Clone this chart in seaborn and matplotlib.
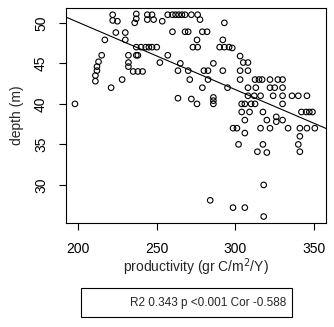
import numpy as np
import pandas as pd
import seaborn as sns
import matplotlib.pyplot as plt
from matplotlib.patches import Rectangle

# productivity (gr C/m2/Y) and depth (m)
productivity = [
    198, 211, 211, 212, 212, 213, 215, 217, 221, 222, 222, 225, 224, 228,
    230, 230, 232, 232, 232, 235, 238, 241, 236, 237, 237,
    237, 240, 243, 245, 247, 250, 237, 238, 244, 247, 244, 248,
    252, 253.5, 257, 257,
    260, 262, 264, 266, 268, 272, 276, 277.5, 293,
    260, 268, 270, 279, 282, 275.6, 292, 273, 276,
    290, 293, 296, 298, 265, 286,
    263.5, 270, 280, 282.6, 292, 271, 282.6, 279, 295,
    263.5, 272, 275.6, 286, 286, 286, 284,
    303, 305, 308, 303, 308,
    303, 312.5, 315, 317, 322, 327, 330,
    308, 313, 322, 325, 330,
    308, 312, 316, 324, 330, 336, 340, 345.5,
    304, 306, 310, 312.5, 330,
    304, 309, 317.5, 342, 345, 347, 349,
    306, 320, 326, 330, 326,
    298.5, 301, 306, 316, 322, 333.5, 341, 345.5, 350.5,
    341, 302, 317.5, 340, 314, 320, 341,
    318, 298.5, 306, 318,
]
depth = [
    40.0, 42.8, 43.5, 44.1, 44.6, 45.2, 46.0, 47.9, 42.0, 51.0, 50.3, 50.2, 48.8, 43.0,
    48.8, 47.9, 46.0, 45.1, 44.6, 44.0, 44.0, 44.0, 50.0, 50.5, 51.1,
    47.0, 47.0, 47.0, 47.0, 47.0, 47.0, 46.0, 46.0, 51.0, 51.0, 50.4, 50.4,
    45.1, 50.2, 51.0, 46.0,
    51.0, 51.0, 51.0, 51.0, 51.0, 51.0, 51.0, 50.4, 50.0,
    48.9, 48.9, 48.9, 48.9, 48.9, 47.9, 47.9, 47.0, 47.0,
    47.0, 47.0, 47.0, 46.9, 45.0, 45.0,
    44.1, 44.1, 44.1, 44.1, 44.1, 43.0, 43.0, 42.0, 42.0,
    40.7, 40.6, 40.0, 40.8, 40.4, 40.0, 28.1,
    45.9, 45.1, 45.1, 44.1, 44.1,
    43.0, 43.0, 43.0, 43.0, 43.0, 43.0, 43.0,
    42.0, 42.0, 42.0, 42.0, 42.0,
    41.0, 41.0, 41.0, 41.0, 41.0, 41.0, 41.0, 41.0,
    40.0, 40.0, 40.0, 40.0, 40.0,
    39.0, 39.0, 39.0, 39.0, 39.0, 39.0, 39.0,
    38.0, 38.0, 38.4, 38.0, 37.8,
    37.0, 37.0, 36.4, 37.0, 37.0, 37.0, 37.0, 37.0, 37.0,
    36.0, 35.0, 35.0, 35.0, 34.1, 34.0, 34.1,
    30.0, 27.2, 27.2, 26.1,
]
stats_label = "R2 0.343 p <0.001 Cor -0.588"

df = pd.DataFrame({"productivity": productivity, "depth": depth})

sns.set_style("white")
plt.rcParams["font.family"] = ["Liberation Sans", "DejaVu Sans"]

fig = plt.figure(figsize=(3.34, 3.27), dpi=100)
ax = fig.add_axes([0.198, 0.318, 0.778, 0.658])

sns.scatterplot(data=df, x="productivity", y="depth", ax=ax, marker="o",
                facecolor="none", edgecolor="black", linewidth=0.8, s=16)
sns.regplot(data=df, x="productivity", y="depth", ax=ax, scatter=False,
            ci=None, truncate=False, color="black", line_kws={"linewidth": 0.8})

ax.set_xlim(192.4, 357.6)
ax.set_ylim(25.3, 51.85)
ax.set_xticks([200, 250, 300, 350])
ax.set_yticks([30, 35, 40, 45, 50])
ax.tick_params(direction="out", length=5, width=0.8, labelsize=10,
               left=True, bottom=True, colors="black")
ax.tick_params(axis="x", pad=9)
ax.tick_params(axis="y", pad=8)
for lab in ax.get_yticklabels():
    lab.set_rotation(90)
    lab.set_va("center")
for sp in ax.spines.values():
    sp.set_visible(True)
    sp.set_color("black")
    sp.set_linewidth(0.8)

ax.set_xlabel("productivity (gr C/m$^2$/Y)", fontsize=10, labelpad=0)
ax.set_ylabel("depth (m)", fontsize=10, labelpad=7)

fig.patches.append(Rectangle((81 / 334, 10 / 327), 211 / 334, 29 / 327,
                             transform=fig.transFigure, fill=False,
                             edgecolor="black", linewidth=0.8))
fig.text(286 / 334, 24 / 327, stats_label, ha="right", va="center", fontsize=8.5)

fig.savefig("out.png", dpi=100)
